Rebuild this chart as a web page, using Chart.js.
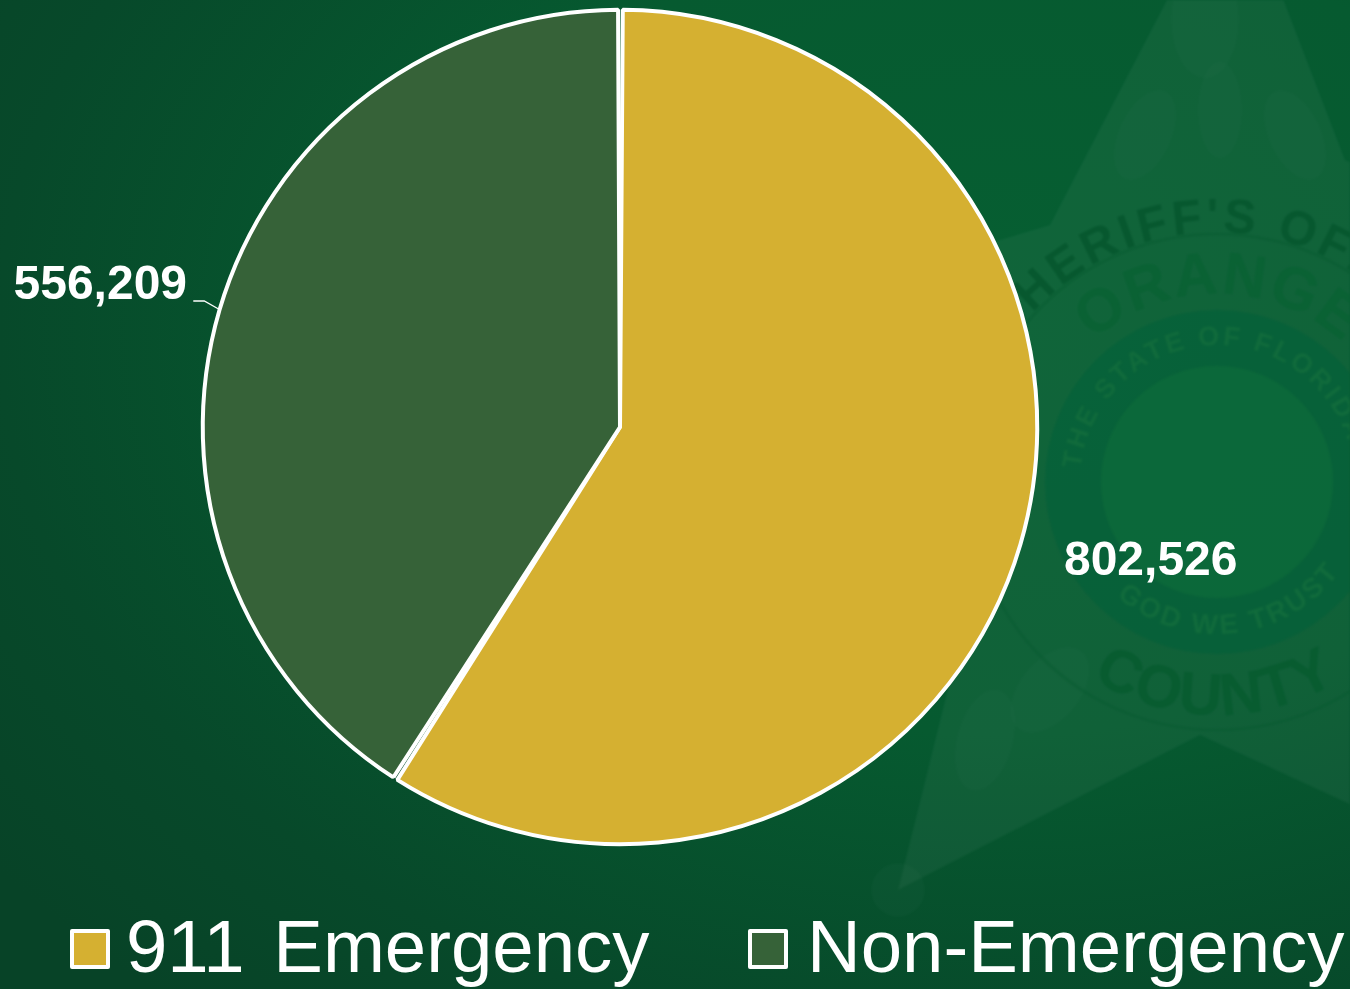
<!DOCTYPE html>
<html>
<head>
<meta charset="utf-8">
<title>Calls for service</title>
<script src="https://cdn.jsdelivr.net/npm/chart.js@4"></script>
<style>
  html, body { margin: 0; padding: 0; }
  body {
    width: 1350px; height: 989px; overflow: hidden; position: relative;
    background: radial-gradient(ellipse 1250px 900px at 1000px 330px, #065f32 0%, #065a30 45%, #07492a 80%, #074327 100%);
    font-family: "Liberation Sans", Arial, sans-serif;
  }
  #badge, #pieChart { position: absolute; left: 0; top: 0; }
  #badge { filter: blur(0.8px); }
  .legend-box {
    position: absolute; top: 929px; width: 32px; height: 32px;
    border: 4px solid #fff; border-radius: 2px;
  }
  .legend-text {
    position: absolute; top: 910px; font-size: 74.4px; line-height: 74px;
    color: #fff; white-space: nowrap; word-spacing: 8px;
  }
</style>
</head>
<body>

<!-- faint sheriff badge behind the pie -->
<svg id="badge" width="1350" height="989" viewBox="0 0 1350 989">
  <defs>
    <path id="arcOuter" d="M 967 482 A 250 250 0 0 1 1467 482"/>
    <path id="arcOrange" d="M 1029 482 A 188 188 0 0 1 1405 482"/>
    <path id="arcState" d="M 1080 482 A 137 137 0 0 1 1354 482"/>
    <path id="arcTrust" d="M 1065 482 A 152 152 0 0 0 1369 482"/>
    <path id="arcCounty" d="M 984 482 A 233 233 0 0 0 1450 482"/>
  </defs>
  <polygon fill="#ffffff" fill-opacity="0.045"
    points="1234,-129 1050,225 724,322 980,560 898,890 1200,735 1536,890 1454,560 1710,322 1345,160"/>
  <circle cx="898" cy="890" r="27" fill="#ffffff" fill-opacity="0.02"/>
  <g fill="#ffffff" fill-opacity="0.014">
    <ellipse cx="1145" cy="135" rx="26" ry="48" transform="rotate(25 1145 135)"/>
    <ellipse cx="1220" cy="110" rx="22" ry="48"/>
    <ellipse cx="1295" cy="135" rx="26" ry="48" transform="rotate(-25 1295 135)"/>
    <ellipse cx="1205" cy="20" rx="34" ry="58"/>
    <ellipse cx="985" cy="740" rx="28" ry="52" transform="rotate(15 985 740)"/>
    <ellipse cx="1050" cy="690" rx="30" ry="50" transform="rotate(40 1050 690)"/>
  </g>
  <circle cx="1217" cy="482" r="172" fill="#005f3a" fill-opacity="0.5"/>
  <circle cx="1217" cy="482" r="116" fill="#12703c" fill-opacity="0.45"/>
  <circle cx="1217" cy="482" r="248" fill="none" stroke="#07592f" stroke-opacity="0.4" stroke-width="3"/>
  <g font-family="Liberation Sans" font-weight="700">
    <text font-size="48" fill="#07582f" letter-spacing="4"><textPath href="#arcOuter" startOffset="19%">SHERIFF'S OFFICE</textPath></text>
    <text font-size="60" fill="#0a6234" letter-spacing="2"><textPath href="#arcOrange" startOffset="27%">ORANGE</textPath></text>
    <text font-size="27" fill="#116b3c" letter-spacing="3"><textPath href="#arcState" startOffset="3%">THE STATE OF FLORIDA</textPath></text>
    <text font-size="28" fill="#116b3c" letter-spacing="3"><textPath href="#arcTrust" startOffset="27%">GOD WE TRUST</textPath></text>
    <text font-size="60" fill="#085c30" letter-spacing="1"><textPath href="#arcCounty" startOffset="32%">COUNTY</textPath></text>
  </g>
</svg>

<canvas id="pieChart" width="1350" height="989"></canvas>
<div id="legend"></div>

<script>
/* Calls by type, values as printed on the slices */
const categories = ['911 Emergency', 'Non-Emergency'];
const callCounts = [802526, 556209];
const sliceColors = ['#D5B031', '#366238'];

/* Label placement relative to each slice's outer edge point */
const labelOffsets = [{ x: 131, y: 18 }, { x: -120, y: -24 }];
const leaderSlice = 1;

/* Legend is rendered by hand in HTML, the gap beside the box is tighter than Chart.js allows */
const legendBoxX = [70, 748];
const legendTextX = [126, 807];

const sliceLabels = {
  id: 'sliceLabels',
  afterDatasetsDraw(chart) {
    const { ctx } = chart;
    const arcs = chart.getDatasetMeta(0).data;
    ctx.save();
    ctx.fillStyle = '#fff';
    ctx.font = 'bold 48px "Liberation Sans", Arial, sans-serif';
    ctx.textAlign = 'center';
    ctx.textBaseline = 'middle';
    arcs.forEach((arc, i) => {
      const mid = (arc.startAngle + arc.endAngle) / 2;
      const edgeX = arc.x + Math.cos(mid) * arc.outerRadius;
      const edgeY = arc.y + Math.sin(mid) * arc.outerRadius;
      const lx = edgeX + labelOffsets[i].x;
      const ly = edgeY + labelOffsets[i].y;
      ctx.fillText(callCounts[i].toLocaleString('en-US'), lx, ly);

      if (i === leaderSlice) {
        ctx.strokeStyle = '#fff';
        ctx.lineWidth = 1.3;
        ctx.beginPath();
        ctx.moveTo(edgeX, edgeY);
        ctx.lineTo(edgeX - 16, edgeY - 9);
        ctx.lineTo(edgeX - 27, edgeY - 9);
        ctx.stroke();
      }
    });
    ctx.restore();
  }
};

new Chart(document.getElementById('pieChart').getContext('2d'), {
  type: 'pie',
  data: {
    labels: categories,
    datasets: [{
      data: callCounts,
      backgroundColor: sliceColors,
      borderColor: '#fff',
      borderWidth: 4,
      spacing: 1.5,
      radius: 416.5
    }]
  },
  options: {
    responsive: false,
    animation: false,
    layout: { padding: { left: 0, right: 110, top: 9, bottom: 144 } },
    plugins: {
      legend: { display: false },
      tooltip: { enabled: false }
    }
  },
  plugins: [sliceLabels]
});

const legendEl = document.getElementById('legend');
categories.forEach((name, i) => {
  const box = document.createElement('div');
  box.className = 'legend-box';
  box.style.left = legendBoxX[i] + 'px';
  box.style.background = sliceColors[i];
  const text = document.createElement('div');
  text.className = 'legend-text';
  text.style.left = legendTextX[i] + 'px';
  text.textContent = name;
  legendEl.append(box, text);
});
</script>
</body>
</html>
